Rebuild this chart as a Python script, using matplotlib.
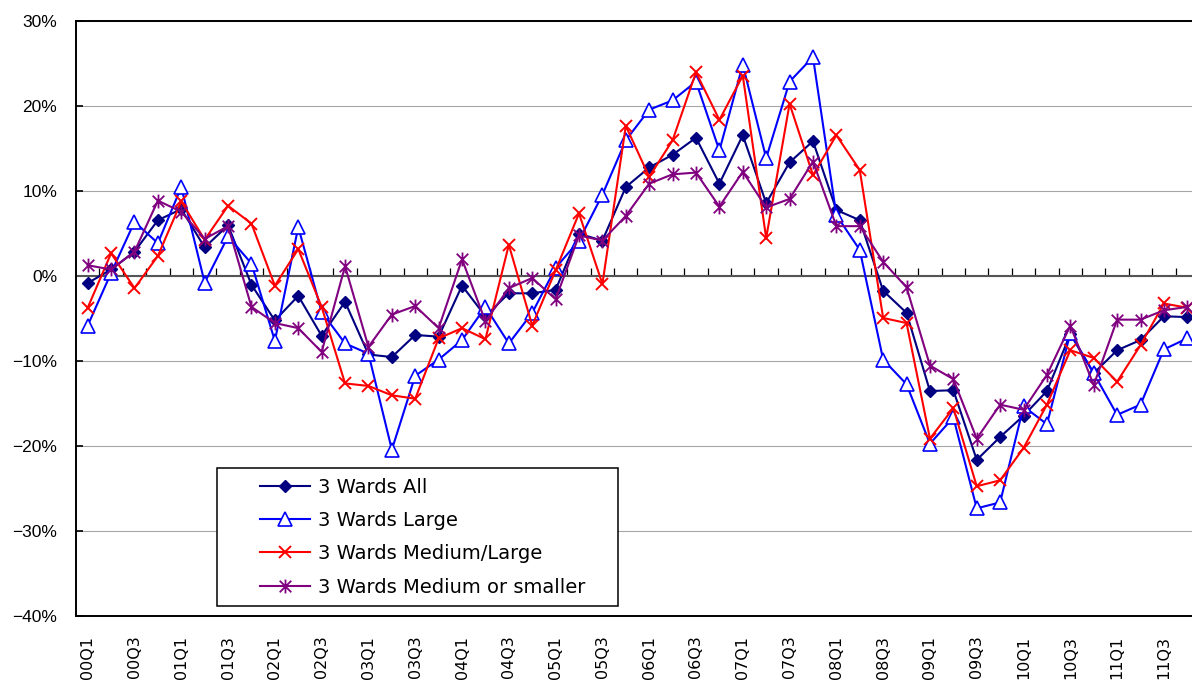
import numpy as np
import matplotlib.pyplot as plt
from matplotlib.path import Path
from matplotlib.lines import Line2D
from matplotlib.legend_handler import HandlerLine2D
from matplotlib.ticker import PercentFormatter, NullFormatter

# quarters 00Q1 .. 11Q4
quarters = [f"{yr:02d}Q{q}" for yr in range(0, 12) for q in range(1, 5)]

# year-on-year change (%)
wards_all = [-0.8, 0.8, 2.9, 6.6, 7.9, 3.4, 6.0, -1.0, -5.2, -2.3, -7.0, -3.0,
             -9.2, -9.5, -6.9, -7.1, -1.1, -4.7, -2.0, -2.0, -1.6, 5.0, 4.2, 10.5,
             12.8, 14.3, 16.3, 10.9, 16.6, 8.6, 13.4, 15.9, 7.8, 6.6, -1.7, -4.3,
             -13.5, -13.4, -21.6, -18.9, -16.4, -13.5, -6.8, -11.4, -8.7, -7.5, -4.7, -4.8]
wards_large = [-5.8, 0.4, 6.4, 3.9, 10.5, -0.75, 4.7, 1.5, -7.6, 5.8, -4.2, -7.9,
               -9.1, -20.4, -11.7, -9.8, -7.5, -3.6, -7.9, -4.3, 1.0, 4.2, 9.6, 16.0,
               19.6, 20.7, 22.9, 14.8, 24.9, 13.9, 22.9, 25.8, 7.2, 3.1, -9.8, -12.7,
               -19.7, -16.6, -27.3, -26.6, -15.3, -17.4, -6.7, -11.4, -16.3, -15.1, -8.6, -7.3]
wards_med_large = [-3.7, 2.7, -1.4, 2.4, 8.8, 4.3, 8.3, 6.2, -1.1, 3.2, -3.6, -12.6,
                   -12.9, -14.0, -14.4, -7.3, -6.1, -7.4, 3.7, -5.8, 0.7, 7.4, -0.9, 17.7,
                   11.7, 16.0, 24.0, 18.4, 23.6, 4.5, 20.3, 11.9, 16.6, 12.5, -4.9, -5.5,
                   -19.1, -15.5, -24.7, -24.0, -20.2, -15.1, -8.7, -9.6, -12.4, -8.1, -3.2, -3.7]
wards_med_small = [1.3, 0.8, 2.9, 8.9, 7.6, 4.4, 5.9, -3.6, -5.5, -6.1, -8.9, 1.2,
                   -8.3, -4.5, -3.5, -6.1, 2.0, -5.3, -1.4, -0.2, -2.7, 4.8, 4.2, 7.1,
                   10.9, 12.0, 12.2, 8.2, 12.3, 8.1, 9.1, 13.5, 5.9, 5.9, 1.7, -1.3,
                   -10.5, -12.1, -19.1, -15.1, -15.7, -11.6, -5.8, -12.8, -5.1, -5.1, -4.0, -3.6]

labels = ["3 Wards All", "3 Wards Large", "3 Wards Medium/Large", "3 Wards Medium or smaller"]

# excel-style star: an x with a vertical bar
star = Path([(-1, -1), (1, 1), (-1, 1), (1, -1), (0, -1.2), (0, 1.2)],
            [Path.MOVETO, Path.LINETO, Path.MOVETO, Path.LINETO, Path.MOVETO, Path.LINETO])

fig = plt.figure(figsize=(11.92, 6.86), dpi=100)
ax = fig.add_axes([76 / 1192, 1 - 616.3 / 686, 1123 / 1192, 595 / 686])

x = np.arange(len(quarters))
ax.plot(x, wards_all, color="#000080", lw=1.5, marker="D", ms=6.2,
        mfc="#000080", mec="#000080", label=labels[0])
ax.plot(x, wards_large, color="#0000FF", lw=1.5, marker="^", ms=9.5,
        mfc="white", mec="#0000FF", mew=1.2, label=labels[1])
ax.plot(x, wards_med_large, color="#FF0000", lw=1.5, marker="x", ms=9,
        mec="#FF0000", mew=1.4, label=labels[2])
ax.plot(x, wards_med_small, color="#800080", lw=1.5, marker=star, ms=10,
        mfc="none", mec="#800080", mew=1.3, label=labels[3])

ymin, ymax = -40, 30
ax.set_xlim(-0.5, len(quarters) - 0.5)
ax.set_ylim(ymin, ymax)
ax.set_yticks(np.arange(ymin, ymax + 1, 10))
ax.yaxis.set_major_formatter(PercentFormatter(decimals=0))
ax.set_xticks(x[::2])
ax.set_xticklabels(quarters[::2], rotation=90, family="DejaVu Sans")
ax.tick_params(axis="x", length=0, pad=14, labelsize=11.5)
ax.tick_params(axis="y", direction="in", length=5, width=1.2, pad=13.5, labelsize=12.5)
for t in ax.get_yticklabels():
    t.set_family("Liberation Sans")
ax.yaxis.grid(True, color="#a6a6a6", lw=0.8)
ax.set_axisbelow(True)
for s in ax.spines.values():
    s.set_color("black")
    s.set_linewidth(1.4)

# category axis crossing at 0 with ticks between quarters
zero = ax.secondary_xaxis((0 - ymin) / (ymax - ymin))
zero.set_alignment("bottom")
zero.set_xticks(x[:-1] + 0.5)
zero.xaxis.set_major_formatter(NullFormatter())
zero.tick_params(direction="in", length=5.5, width=0.9, color="black")
zero.spines["bottom"].set_color("#555555")
zero.spines["bottom"].set_linewidth(1.5)
zero.set_zorder(1)

fs = 14
fs_px = fs * 100 / 72
leg = ax.legend(loc="lower left", bbox_to_anchor=(0.1256, 0.0173, 0.3571, 0.2303),
                mode="expand", borderaxespad=0, fontsize=fs,
                handlelength=84 / fs_px, handletextpad=0.37, borderpad=0.48,
                labelspacing=0.74, fancybox=False, framealpha=1, edgecolor="black",
                handler_map={Line2D: HandlerLine2D(xpad=34 / fs_px)})
leg.get_frame().set_linewidth(1.1)

fig.savefig("out.png", dpi=100)
